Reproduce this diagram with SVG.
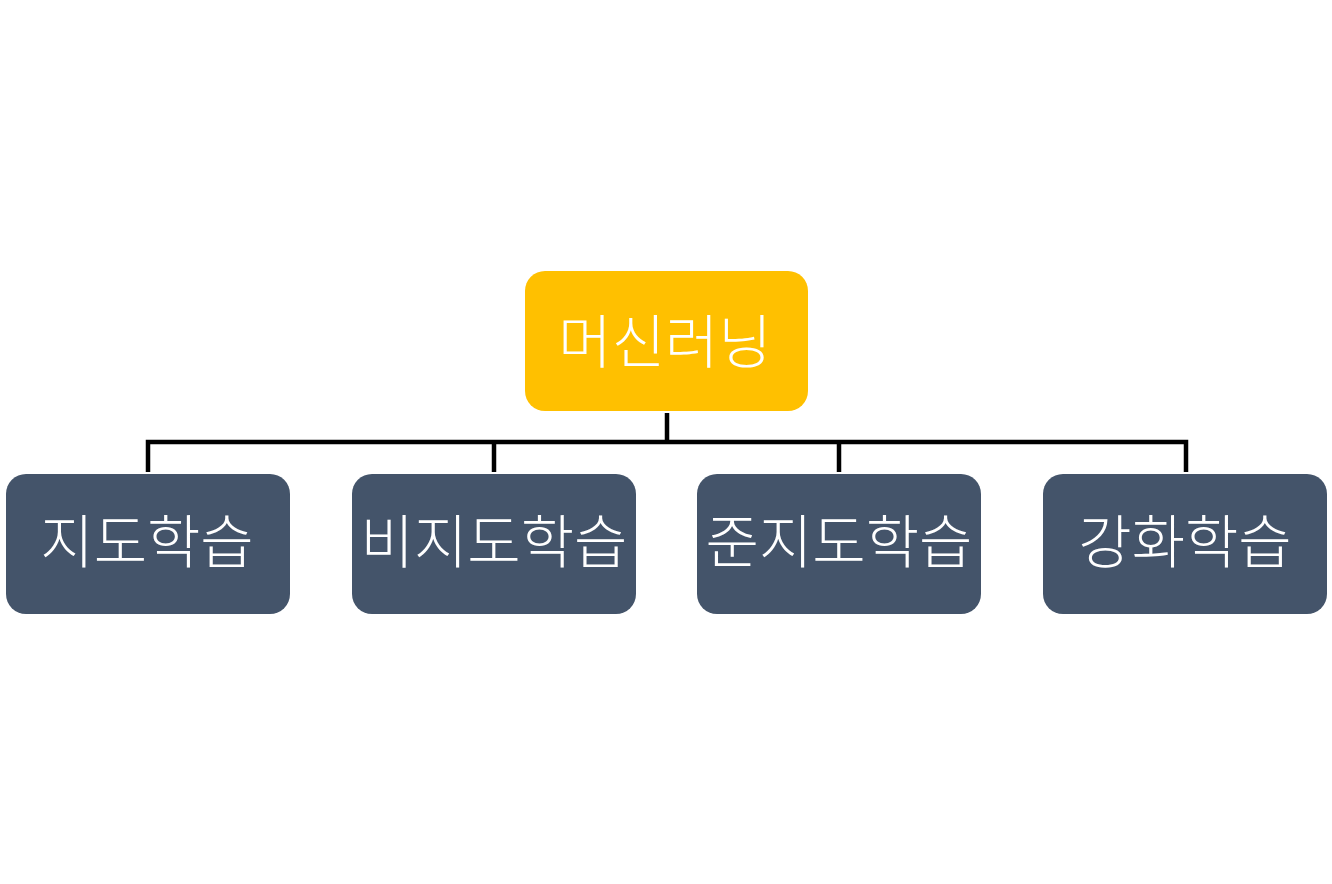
<svg xmlns="http://www.w3.org/2000/svg" width="1332" height="884" viewBox="0 0 1332 884">
<style>
.root{fill:#FFC000}
.child{fill:#44546A}
.lbl{fill:#FFFFFF;font-family:"Noto Sans CJK KR","Noto Sans",sans-serif;font-weight:300;font-size:58px;text-anchor:middle;dominant-baseline:central}
.conn{stroke:#000000;stroke-width:4.5;fill:none}
</style>
<rect width="1332" height="884" fill="#FFFFFF"/>
<g id="connectors">
<path class="conn" d="M667 413 V442"/>
<path class="conn" d="M148 472 V442 H1186 V472"/>
<path class="conn" d="M494 442 V472"/>
<path class="conn" d="M839 442 V472"/>
</g>
<g id="node-root">
<rect class="root" x="525" y="271" width="283" height="140" rx="20"/>
<text class="lbl" x="665" y="338">머신러닝</text>
</g>
<g id="node-supervised">
<rect class="child" x="6" y="474" width="284" height="140" rx="20"/>
<text class="lbl" x="147" y="538">지도학습</text>
</g>
<g id="node-unsupervised">
<rect class="child" x="352" y="474" width="284" height="140" rx="20"/>
<text class="lbl" x="494" y="538">비지도학습</text>
</g>
<g id="node-semisupervised">
<rect class="child" x="697" y="474" width="284" height="140" rx="20"/>
<text class="lbl" x="839" y="538">준지도학습</text>
</g>
<g id="node-reinforcement">
<rect class="child" x="1043" y="474" width="284" height="140" rx="20"/>
<text class="lbl" x="1185" y="538">강화학습</text>
</g>
</svg>
